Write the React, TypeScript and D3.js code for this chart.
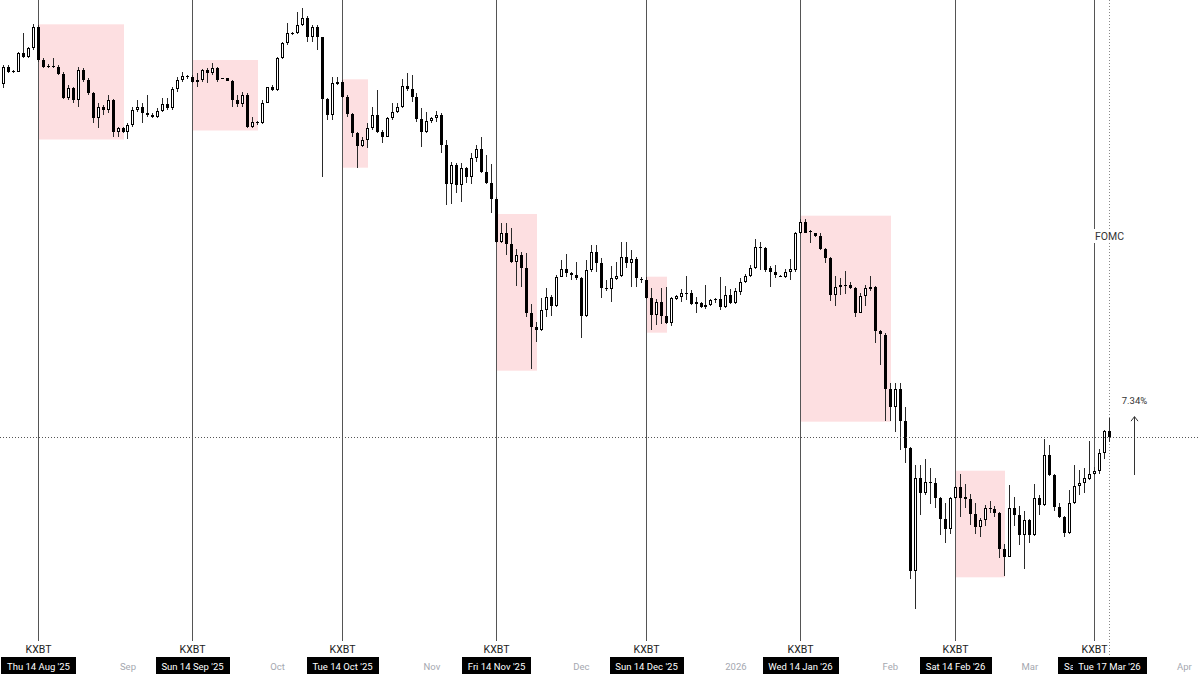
import React, { useEffect } from 'react';
import * as d3 from 'd3';

type Candle = [number, number, number, number, number]; // day, open, high, low, close

const AUG_2025: Candle[] = [
  [6, 118200, 118750, 118100, 118650], [7, 118650, 120500, 118170, 120330], [8, 120330, 120500, 119670, 119830],
  [9, 119830, 120000, 119750, 119870], [10, 119830, 121830, 119800, 121670], [11, 121670, 123670, 121170, 121330],
  [12, 121330, 122330, 121170, 122170], [13, 122170, 124600, 122000, 124330], [14, 124330, 124500, 120830, 121000],
  [15, 121000, 121170, 120170, 120330], [16, 120330, 120600, 120250, 120450], [17, 120450, 121170, 120250, 120330],
  [18, 120330, 120500, 119500, 119600], [19, 119600, 119830, 117070, 117170], [20, 117170, 118500, 117000, 118170],
  [21, 118170, 118330, 116670, 117000], [22, 117000, 120330, 116330, 120000], [23, 120000, 120170, 118830, 119000],
  [24, 119000, 119170, 117500, 117670], [25, 117670, 117830, 114670, 115170], [26, 115170, 116670, 114170, 116330],
  [27, 116330, 116500, 115500, 116000], [28, 116000, 117500, 115670, 117000], [29, 117000, 117050, 113330, 113830],
  [30, 113830, 114330, 113330, 114230], [31, 114230, 114330, 113730, 113830],
];

const SEP_2025: Candle[] = [
  [1, 113830, 114670, 113070, 114500], [2, 114500, 116330, 114330, 116000], [3, 116000, 117000, 115830, 116330],
  [4, 116330, 116670, 114670, 115670], [5, 115670, 117500, 115330, 115500], [6, 115500, 115730, 115170, 115270],
  [7, 115270, 116170, 115170, 115900], [8, 115900, 117170, 115830, 116600], [9, 116600, 117170, 116000, 116170],
  [10, 116170, 118270, 116000, 118070], [11, 118070, 119270, 117830, 119000], [12, 119000, 119830, 118830, 119400],
  [13, 119400, 119500, 119070, 119270], [14, 119270, 119500, 118670, 118830], [15, 118830, 119670, 118330, 119000],
  [16, 119000, 120070, 118830, 120000], [17, 120000, 120170, 118670, 119670], [18, 119670, 120670, 119500, 120170],
  [19, 120170, 120330, 118830, 119000], [20, 119130, 119230, 119070, 119170], [21, 119170, 119230, 118870, 118930],
  [22, 118930, 119000, 116330, 117000], [23, 117000, 117500, 116330, 116570], [24, 116570, 117830, 116330, 117500],
  [25, 117500, 117670, 114170, 114270], [26, 114270, 115270, 114170, 114830], [27, 114830, 114930, 114500, 114670],
  [28, 114670, 117000, 114600, 116730], [29, 116730, 118330, 116670, 118270], [30, 118270, 118500, 117930, 118000],
];

const OCT_2025: Candle[] = [
  [1, 118000, 121270, 117930, 121170], [2, 121170, 122830, 121070, 122670], [3, 122670, 124670, 122500, 123670],
  [4, 123670, 123830, 123500, 123700], [5, 123700, 125830, 123600, 124500], [6, 124500, 126170, 124400, 125170],
  [7, 125170, 125400, 122830, 123330], [8, 123330, 124500, 122830, 124330], [9, 124330, 124500, 122000, 123270],
  [10, 123270, 123330, 109330, 117070], [11, 117070, 117200, 115000, 115500], [12, 115500, 119330, 115000, 118670],
  [13, 118600, 119270, 118500, 118830], [14, 118830, 119000, 117170, 117270], [15, 117270, 117500, 115330, 115600],
  [16, 115600, 115670, 113330, 113670], [17, 113670, 113830, 110170, 112400], [18, 112400, 113330, 112270, 113000],
  [19, 113000, 114670, 112170, 114170], [20, 114170, 116330, 114000, 115500], [21, 115500, 118000, 113670, 113830],
  [22, 113830, 114000, 112670, 113330], [23, 113330, 115330, 113270, 115170], [24, 115170, 116670, 115000, 115830],
  [25, 115830, 116670, 115730, 116270], [26, 116270, 119070, 116170, 118400], [27, 118400, 119670, 117930, 118070],
  [28, 118070, 119500, 116830, 117270], [29, 117270, 117670, 114830, 115070], [30, 115070, 116170, 112330, 113830],
  [31, 113830, 115830, 113670, 114900],
];

const NOV_2025: Candle[] = [
  [1, 114900, 115330, 114670, 115170], [2, 115170, 115930, 114830, 115500], [3, 115500, 115670, 111670, 112500],
  [4, 112500, 113000, 106500, 108600], [5, 108600, 110830, 106600, 110500], [6, 110500, 110670, 107670, 108500],
  [7, 108500, 110670, 106830, 110170], [8, 110170, 110270, 108670, 109270], [9, 109270, 111670, 108600, 111170],
  [10, 111170, 112500, 110830, 112070], [11, 112070, 113270, 109670, 109830], [12, 109830, 111500, 108600, 108670],
  [13, 108670, 110600, 105730, 107070], [14, 107070, 107330, 102730, 102830], [15, 102830, 104730, 102730, 103730],
  [16, 103730, 104730, 101500, 102600], [17, 102600, 104170, 100670, 100830], [18, 100830, 102070, 98400, 101500],
  [19, 101500, 101830, 98330, 100170], [20, 100170, 101670, 95330, 95730], [21, 95730, 96600, 90070, 94330],
  [22, 94330, 94830, 92830, 94000], [23, 94000, 97170, 93930, 96000], [24, 96000, 98170, 95330, 97270],
  [25, 97270, 97500, 95400, 96400], [26, 96400, 99500, 96330, 99300], [27, 99300, 101000, 99270, 100070],
  [28, 100070, 101600, 99330, 99670], [29, 99670, 99830, 99000, 99500], [30, 99500, 100830, 99000, 99170],
];

const DEC_2025: Candle[] = [
  [1, 99170, 99330, 93170, 95400], [2, 95400, 101000, 95330, 100000], [3, 100000, 102500, 99830, 101830],
  [4, 101830, 102500, 99830, 100670], [5, 100670, 101170, 97170, 98170], [6, 98170, 99000, 97930, 98070],
  [7, 98070, 100400, 96830, 99170], [8, 99070, 100830, 99000, 99400], [9, 99400, 102830, 99330, 101270],
  [10, 101270, 102830, 100170, 100670], [11, 100670, 102000, 98270, 101070], [12, 101070, 101270, 98270, 99170],
  [13, 99100, 99330, 98730, 99050], [14, 99050, 99330, 97070, 97170], [15, 97170, 98170, 94000, 95500],
  [16, 95500, 97070, 94500, 96830], [17, 96830, 98170, 94600, 95400], [18, 95400, 98270, 94600, 94730],
  [19, 94730, 97270, 94400, 97170], [20, 97070, 97500, 97000, 97400], [21, 97330, 98070, 96830, 97670],
  [22, 97700, 99400, 97000, 97640], [23, 97670, 98000, 96500, 96600], [24, 96600, 97330, 95670, 96830],
  [25, 96730, 96830, 96170, 96270], [26, 96270, 98500, 96070, 96500], [27, 96500, 97070, 96400, 97000],
  [28, 97050, 97170, 96730, 97080], [29, 97070, 99270, 96000, 96270], [30, 96270, 98400, 96170, 97500],
  [31, 97500, 98070, 96600, 96730],
];

const JAN_2026: Candle[] = [
  [1, 96730, 98170, 96600, 97930], [2, 97830, 99170, 97500, 98830], [3, 98830, 99600, 98670, 99400],
  [4, 99400, 100500, 99330, 100170], [5, 100170, 103070, 100070, 102270], [6, 102270, 102830, 100000, 102170],
  [7, 102170, 102250, 99830, 100000], [8, 100170, 100400, 98330, 99830], [9, 99830, 100500, 99170, 99500],
  [10, 99420, 99500, 99270, 99380], [11, 99330, 100070, 99170, 99830], [12, 99830, 101070, 99000, 100070],
  [13, 100000, 103830, 99830, 103670], [14, 103670, 105100, 103600, 104830], [15, 104830, 105070, 103670, 103730],
  [16, 103850, 104000, 102670, 103810], [17, 103670, 103730, 103270, 103400], [18, 103400, 103670, 102000, 102070],
  [19, 102070, 102170, 100670, 101170], [20, 101170, 101330, 96930, 97500], [21, 97500, 99400, 96400, 98270],
  [22, 98270, 99170, 97500, 98500], [23, 98520, 99930, 97600, 98480], [24, 98500, 98830, 98070, 98170],
  [25, 98170, 98270, 95330, 95730], [26, 95730, 97670, 95670, 97400], [27, 97400, 98500, 96400, 98170],
  [28, 98070, 99400, 97930, 98270], [29, 98270, 98400, 92730, 93930], [30, 93930, 94000, 90500, 93600],
  [31, 93500, 93670, 84930, 88070],
];

const FEB_2026: Candle[] = [
  [1, 88070, 88670, 84930, 86270], [2, 86270, 88670, 83830, 88070], [3, 88070, 88670, 82000, 84930],
  [4, 84930, 86270, 80670, 82170], [5, 82170, 82270, 69100, 69900], [6, 69900, 80500, 66100, 79170],
  [7, 79170, 80500, 75500, 77670], [8, 77670, 81070, 77500, 78830], [9, 78830, 80170, 76600, 78670],
  [10, 78670, 79170, 76170, 77170], [11, 77170, 77270, 73500, 75070], [12, 75070, 76670, 72670, 74070],
  [13, 74070, 77270, 73600, 77170], [14, 77170, 78400, 77070, 78330], [15, 78330, 79600, 75270, 77170],
  [16, 77270, 78600, 76170, 77100], [17, 77100, 77600, 74500, 75600], [18, 75600, 76730, 73600, 74270],
  [19, 74270, 75170, 73330, 75000], [20, 75000, 76500, 74400, 76170], [21, 76190, 76930, 75670, 76150],
  [22, 76070, 76400, 75330, 75730], [23, 75730, 75830, 71170, 72070], [24, 72070, 72600, 69400, 71330],
  [25, 71330, 78500, 71270, 76170], [26, 76170, 77270, 74400, 75500], [27, 75500, 76400, 72500, 73500],
  [28, 73500, 75930, 70070, 75000],
];

const MAR_2026: Candle[] = [
  [1, 75000, 75100, 72670, 73500], [2, 73500, 78600, 73400, 77170], [3, 77170, 77500, 75500, 76500],
  [4, 76500, 83070, 76400, 81500], [5, 81500, 82500, 79400, 79500], [6, 79500, 79600, 75930, 76330],
  [7, 76330, 76730, 75170, 75270], [8, 75270, 75400, 73330, 73670], [9, 73670, 78000, 73600, 76670],
  [10, 76670, 80500, 76600, 78400], [11, 78400, 80000, 77500, 78730], [12, 78730, 80170, 77670, 79170],
  [13, 79070, 82930, 79000, 79600], [14, 79600, 80270, 79500, 79930], [15, 79930, 82070, 79600, 81670],
  [16, 81670, 84000, 81070, 83930], [17, 83930, 85170, 82830, 83270],
];

const MONTH_SERIES: [number, number, Candle[]][] = [
  [2025, 7, AUG_2025], [2025, 8, SEP_2025], [2025, 9, OCT_2025], [2025, 10, NOV_2025],
  [2025, 11, DEC_2025], [2026, 0, JAN_2026], [2026, 1, FEB_2026], [2026, 2, MAR_2026],
];

// Vertical event lines (KXBT expiries) and the FOMC line
const KXBT_DATES = ['2025-08-14', '2025-09-14', '2025-10-14', '2025-11-14', '2025-12-14', '2026-01-14', '2026-02-14', '2026-03-14'];
const FOMC_DATE = '2026-03-17';

// Shaded ranges: start date, end date, top price, bottom price
const RANGE_STARTS = ['2025-08-14', '2025-09-14', '2025-10-14', '2025-11-14', '2025-12-14', '2026-01-14', '2026-02-14'];
const RANGE_ENDS = ['2025-08-31', '2025-09-27', '2025-10-19', '2025-11-22', '2025-12-18', '2026-02-01', '2026-02-24'];
const RANGE_TOPS = [124570, 121000, 119070, 105600, 99330, 105430, 79930];
const RANGE_BOTTOMS = [113050, 113950, 110230, 89930, 93730, 84830, 69270];

// Time axis month labels
const TICK_DATES = ['2025-09-01', '2025-10-01', '2025-11-01', '2025-12-01', '2026-01-01', '2026-02-01', '2026-03-01', '2026-04-01'];
const TICK_LABELS = ['Sep', 'Oct', 'Nov', 'Dec', '2026', 'Feb', 'Mar', 'Apr'];

// Percent move annotation
const MOVE_DATE = '2026-03-22';
const MOVE_BASE = 79500;
const MOVE_PCT = 7.34;

const W = 1200;
const H = 676;
const FONT = "Roboto, 'Liberation Sans', Arial, sans-serif";

const parse = d3.utcParse('%Y-%m-%d');
const fmtLabel = d3.utcFormat("%a %d %b '%y");

let measureCtx: CanvasRenderingContext2D | null = null;
function textWidth(t: string, size: number): number {
  if (!measureCtx) measureCtx = document.createElement('canvas').getContext('2d');
  if (!measureCtx) return t.length * size * 0.55;
  measureCtx.font = `${size}px ${FONT}`;
  return measureCtx.measureText(t).width;
}

export default function App() {
  useEffect(() => {
    document.body.style.margin = '0';
  }, []);

  const x = d3.scaleUtc()
    .domain([parse('2025-08-14') as Date, parse('2026-03-17') as Date])
    .range([38.3, 1109.6]);
  const y = d3.scaleLinear().domain([59400, 127000]).range([H, 0]);
  const px = (d: Date) => Math.floor(x(d)) + 0.5;

  const candles = MONTH_SERIES.flatMap(([yr, mo, rows]) =>
    rows.map(([day, o, h, l, c]) => ({ date: new Date(Date.UTC(yr, mo, day)), o, h, l, c }))
  );
  const last = candles[candles.length - 1];
  const lastY = Math.round(y(last.c)) + 0.5;

  const LINE_BOTTOM = 641;
  const BOX_Y = 657;
  const BOX_H = 17;
  const DATE_FS = 9.5;

  const moveX = px(parse(MOVE_DATE) as Date);
  const moveY0 = y(MOVE_BASE);
  const moveY1 = y(MOVE_BASE * (1 + MOVE_PCT / 100));

  const fomcX = px(parse(FOMC_DATE) as Date);
  const fomcW = textWidth('FOMC', 10.5) + 4;

  const allBoxDates = [...KXBT_DATES, FOMC_DATE];
  const dateBoxes = allBoxDates.map((s, i) => {
    const d = parse(s) as Date;
    const label = fmtLabel(d);
    const w = Math.round(textWidth(label, DATE_FS) + 12);
    return { cx: px(d), label, w, key: s, covered: false };
  });
  // a box hidden under the next one shows only its first letters
  for (let i = 0; i < dateBoxes.length - 1; i++) {
    const a = dateBoxes[i];
    const b = dateBoxes[i + 1];
    if (a.cx + a.w / 2 > b.cx - b.w / 2) a.covered = true;
  }

  return (
    <svg width={W} height={H} style={{ position: 'absolute', left: 0, top: 0, display: 'block', background: '#fff' }}
      fontFamily={FONT}>
      <rect x={0} y={0} width={W} height={H} fill="#ffffff" />
      {/* shaded ranges */}
      {RANGE_STARTS.map((s, i) => {
        const x0 = px(parse(s) as Date) + 0.5;
        const x1 = px(parse(RANGE_ENDS[i]) as Date) + 0.5;
        const y0 = y(RANGE_TOPS[i]);
        const y1 = y(RANGE_BOTTOMS[i]);
        return <rect key={'r' + i} x={x0} y={y0} width={x1 - x0} height={y1 - y0} fill="rgba(242,54,69,0.16)" />;
      })}
      {/* KXBT vertical lines */}
      {KXBT_DATES.map((s) => {
        const lx = px(parse(s) as Date);
        return <line key={'v' + s} x1={lx} x2={lx} y1={0} y2={LINE_BOTTOM} stroke="#555" strokeWidth={1} />;
      })}
      {/* FOMC dotted line */}
      <line x1={fomcX} x2={fomcX} y1={0} y2={BOX_Y} stroke="#888" strokeWidth={1} strokeDasharray="1 2" />
      {/* candles */}
      {candles.map((k, i) => {
        const cx = px(k.date);
        const up = k.c >= k.o;
        const yt = Math.round(y(Math.max(k.o, k.c)));
        const yb = Math.round(y(Math.min(k.o, k.c)));
        const wick = (
          <line x1={cx} x2={cx} y1={Math.round(y(k.h))} y2={Math.round(y(k.l))} stroke="#2a2a2a" strokeWidth={1} />
        );
        let body;
        if (yb - yt < 2) {
          body = <rect x={cx - 1.5} y={yt} width={3} height={Math.max(yb - yt, 1)} fill="#000" />;
        } else if (up) {
          body = <rect x={cx - 1} y={yt + 0.5} width={2} height={yb - yt - 1} fill="#fff" stroke="#000" strokeWidth={1} />;
        } else {
          body = <rect x={cx - 1.5} y={yt} width={3} height={yb - yt} fill="#000" />;
        }
        return (
          <g key={'c' + i}>
            {wick}
            {body}
          </g>
        );
      })}
      {/* last price line */}
      <line x1={0} x2={W} y1={lastY} y2={lastY} stroke="#555" strokeWidth={1} strokeDasharray="1 2" />
      {/* FOMC label */}
      <rect x={fomcX - fomcW / 2} y={229} width={fomcW} height={14} fill="#fff" />
      <text x={fomcX} y={240} textAnchor="middle" fontSize={10.5} fill="#333">FOMC</text>
      {/* percent move */}
      <line x1={moveX} x2={moveX} y1={moveY0} y2={moveY1} stroke="#333" strokeWidth={1} />
      <path d={`M${moveX - 3.5},${moveY1 + 4.5} L${moveX},${moveY1} L${moveX + 3.5},${moveY1 + 4.5}`} fill="none" stroke="#333" strokeWidth={1} />
      <text x={moveX} y={moveY1 - 13} textAnchor="middle" fontSize={9.5} fill="#333">{MOVE_PCT.toFixed(2)}%</text>
      {/* KXBT labels */}
      {KXBT_DATES.map((s) => {
        const lx = px(parse(s) as Date);
        return <text key={'k' + s} x={lx} y={653} textAnchor="middle" fontSize={10.5} fill="#222">KXBT</text>;
      })}
      {/* month ticks */}
      {TICK_DATES.map((s, i) => (
        <text key={'t' + s} x={x(parse(s) as Date)} y={670} textAnchor="middle" fontSize={9.5} fill="#a5a8b0">{TICK_LABELS[i]}</text>
      ))}
      {/* date boxes */}
      {dateBoxes.map((b) => {
        const left = Math.round(b.cx - b.w / 2);
        return (
          <g key={'b' + b.key}>
            <rect x={left} y={BOX_Y} width={b.w} height={BOX_H} fill="#000" />
            {b.covered ? (
              <text x={left + 6} y={BOX_Y + 12.5} fontSize={DATE_FS} fill="#fff">{b.label.slice(0, 2)}</text>
            ) : (
              <text x={b.cx} y={BOX_Y + 12.5} textAnchor="middle" fontSize={DATE_FS} fill="#fff">{b.label}</text>
            )}
          </g>
        );
      })}
    </svg>
  );
}
